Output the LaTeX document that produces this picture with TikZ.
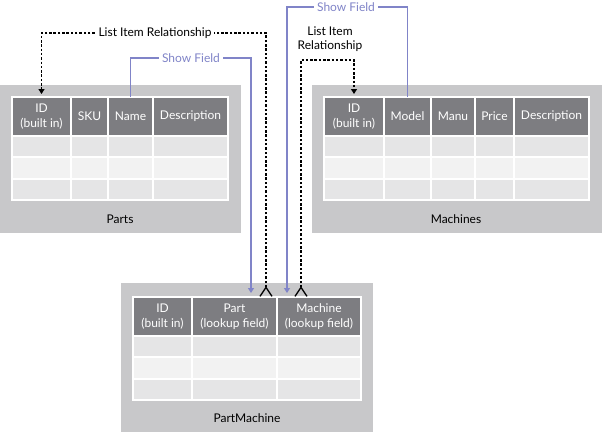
\documentclass[tikz,border=0pt]{standalone}
\usepackage{fontspec}
\setmainfont{Lato}
\usetikzlibrary{arrows.meta,positioning}
\definecolor{PanelClr}{RGB}{200,200,202}
\definecolor{HeadClr}{RGB}{125,125,129}
\definecolor{RowAClr}{RGB}{229,229,230}
\definecolor{RowBClr}{RGB}{242,242,242}
\definecolor{LinkClr}{RGB}{128,132,200}

\begin{document}
\begin{tikzpicture}[x=1pt,y=-1pt,font=\fontsize{12}{14.5}\selectfont,
  panel/.style={fill=PanelClr},
  grid/.style={draw=white,line width=1.2pt},
  headcell/.style={grid,fill=HeadClr,text=white,anchor=north west,inner sep=0pt,outer sep=0pt,align=center,minimum height=39pt},
  rel/.style={line width=1.4pt,dash pattern=on 2.5pt off 1.8pt},
  show/.style={LinkClr,line width=1.2pt},
  lbl/.style={inner sep=3pt,align=center,fill=white},
  crow/.tip={Straight Barb[reversed,length=9pt,width=12pt,line width=1.3pt]},
  tipdown/.tip={Triangle[length=5pt,width=6pt]}]
\useasboundingbox (0,0) rectangle (602,432);

\fill[panel] (0,85) rectangle (241,233);
\fill[panel] (312,85) rectangle (602,233);
\fill[panel] (121,283) rectangle (373,432);

\foreach \xa/\xb/\ya in {12/228/136,324/589/136,133/361/336}{
  \fill[RowAClr] (\xa,\ya) rectangle (\xb,\ya+21);
  \fill[RowBClr] (\xa,\ya+21) rectangle (\xb,\ya+43);
  \fill[RowAClr] (\xa,\ya+43) rectangle (\xb,\ya+64);
  \draw[grid] (\xa,\ya+21) -- (\xb,\ya+21) (\xa,\ya+43) -- (\xb,\ya+43);
  \draw[grid] (\xa,\ya-39) rectangle (\xb,\ya+64);
}
\foreach \x in {71,108,153} \draw[grid] (\x,136) -- (\x,200);
\foreach \x in {384,431,475,514} \draw[grid] (\x,136) -- (\x,200);
\foreach \x in {192,277} \draw[grid] (\x,336) -- (\x,400);

\node[headcell,minimum width=59pt] (pID) at (12,97) {ID\\(built in)};
\node[headcell,minimum width=37pt] (pSKU) at (pID.north east) {SKU};
\node[headcell,minimum width=45pt] (pName) at (pSKU.north east) {Name};
\node[headcell,minimum width=75pt] (pDesc) at (pName.north east) {Description};
\node (pLbl) at (120,219) {Parts};

\node[headcell,minimum width=60pt] (mID) at (324,97) {ID\\(built in)};
\node[headcell,minimum width=47pt] (mModel) at (mID.north east) {Model};
\node[headcell,minimum width=44pt] (mManu) at (mModel.north east) {Manu};
\node[headcell,minimum width=39pt] (mPrice) at (mManu.north east) {Price};
\node[headcell,minimum width=75pt] (mDesc) at (mPrice.north east) {Description};
\node (mLbl) at (456,219) {Machines};

\node[headcell,minimum width=59pt] (pmID) at (133,297) {ID\\(built in)};
\node[headcell,minimum width=85pt] (pmPart) at (pmID.north east) {Part\\(lookup field)};
\node[headcell,minimum width=84pt] (pmMachine) at (pmPart.north east) {Machine\\(lookup field)};
\node (pmLbl) at (247,418) {PartMachine};

\coordinate (relA) at (266,33);
\coordinate (showA) at (251,58);
\coordinate (showB) at (287,7);
\coordinate (relB) at (301,60);

\draw[rel,crow-tipdown,shorten >=3pt] (pmPart.north -| relA) -- (relA) -| (pID.north);
\draw[show,-tipdown,shorten >=4pt] (pName.north) |- (showA) -- (pmPart.north -| showA);
\draw[show,-tipdown,shorten >=4pt] (mModel.north) |- (showB) -- (pmMachine.north -| showB);
\draw[rel,crow-tipdown,shorten >=3pt] (pmMachine.north -| relB) -- (relB) -| (mID.north);

\node[lbl] (lblRelA) at (155,33) {List Item Relationship};
\node[lbl,text=LinkClr] (lblShowA) at (191,58) {Show Field};
\node[lbl,text=LinkClr] (lblShowB) at (346,7) {Show Field};
\node[lbl,fill=none,font=\fontsize{12}{14}\selectfont] (lblRelB) at (330,39) {List Item\\Relationship};
\end{tikzpicture}
\end{document}
